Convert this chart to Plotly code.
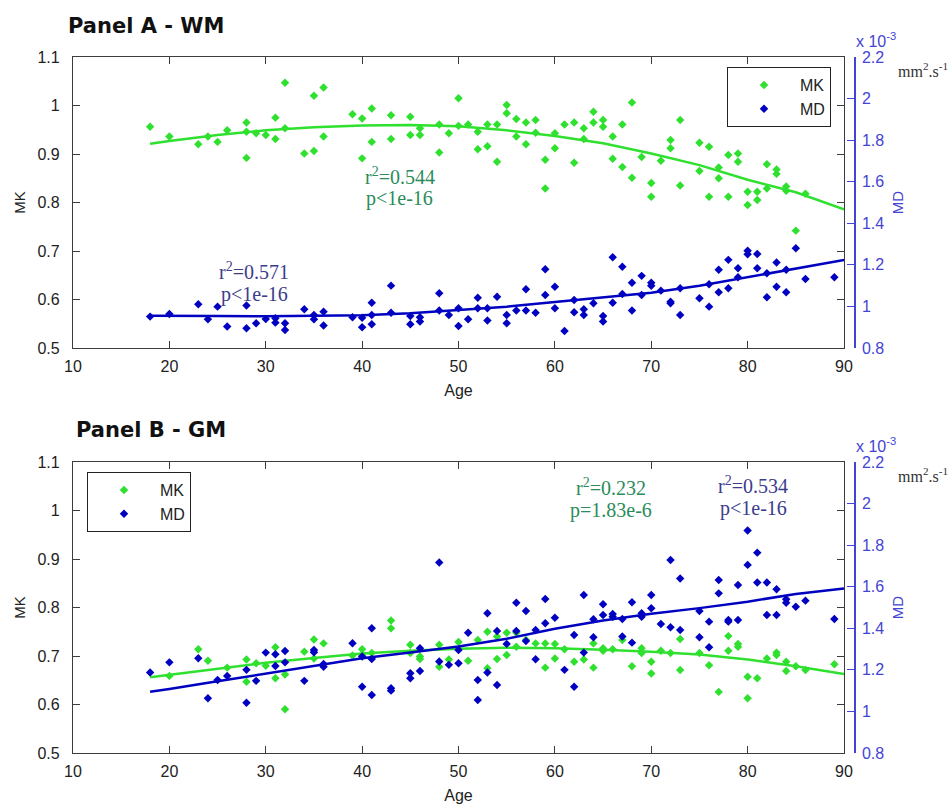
import plotly.graph_objects as go

# ---------------- Panel A - white matter ----------------
age_mk_a = [18, 20, 23, 24, 25, 26, 28, 28, 28, 29, 30, 31, 31, 32, 32, 34, 35, 35, 36, 36,
            39, 40, 40, 41, 41, 43, 43, 45, 45, 46, 46, 48, 48, 49, 50, 50, 51, 52, 52, 53,
            53, 54, 54, 55, 55, 56, 56, 57, 57, 58, 58, 59, 59, 60, 60, 61, 62, 62, 63, 63,
            64, 64, 65, 65, 66, 66, 67, 67, 68, 68, 69, 70, 70, 71, 72, 72, 73, 73, 75, 75,
            76, 76, 77, 77, 78, 78, 79, 79, 80, 80, 81, 81, 82, 82, 83, 83, 84, 84, 85, 86]
mk_a = [0.956, 0.936, 0.920, 0.936, 0.925, 0.949, 0.965, 0.946, 0.892, 0.943, 0.939, 0.975,
        0.931, 1.047, 0.953, 0.901, 1.020, 0.906, 1.037, 0.936, 0.982, 0.973, 0.891, 0.994,
        0.925, 0.980, 0.931, 0.977, 0.939, 0.953, 0.939, 0.961, 0.903, 0.943, 1.015, 0.958,
        0.961, 0.946, 0.910, 0.961, 0.916, 0.961, 0.884, 1.001, 0.984, 0.972, 0.936, 0.965,
        0.920, 0.970, 0.944, 0.888, 0.829, 0.943, 0.912, 0.961, 0.965, 0.882, 0.953, 0.931,
        0.987, 0.965, 0.970, 0.956, 0.936, 0.890, 0.961, 0.873, 1.006, 0.851, 0.894, 0.840,
        0.812, 0.886, 0.929, 0.912, 0.970, 0.835, 0.923, 0.865, 0.915, 0.812, 0.872, 0.850,
        0.898, 0.812, 0.901, 0.884, 0.822, 0.795, 0.822, 0.805, 0.879, 0.829, 0.868, 0.859,
        0.833, 0.824, 0.742, 0.818]

age_md_a = [18, 20, 23, 24, 25, 26, 28, 28, 29, 30, 31, 31, 32, 32, 34, 35, 35, 36, 36, 39,
            40, 40, 41, 41, 41, 43, 43, 45, 45, 46, 46, 48, 48, 49, 50, 50, 51, 52, 52, 53,
            53, 54, 55, 55, 56, 57, 57, 58, 59, 59, 60, 60, 61, 62, 62, 63, 63, 64, 65, 65,
            66, 66, 67, 67, 68, 68, 69, 69, 70, 70, 71, 72, 72, 73, 73, 75, 76, 76, 77, 77,
            78, 78, 79, 79, 80, 80, 81, 81, 82, 82, 83, 83, 84, 84, 85, 86, 89]
md_a = [0.951, 0.964, 1.010, 0.938, 0.999, 0.903, 1.004, 0.895, 0.919, 0.940, 0.943, 0.922,
        0.919, 0.887, 0.986, 0.959, 0.938, 0.975, 0.908, 0.948, 0.946, 0.900, 1.018, 0.959,
        0.914, 1.100, 0.970, 0.954, 0.914, 0.948, 0.927, 1.063, 0.980, 0.959, 0.991, 0.906,
        0.938, 1.042, 0.991, 0.991, 0.932, 1.047, 0.959, 0.919, 0.980, 1.083, 0.980, 0.970,
        1.179, 1.055, 1.095, 0.991, 0.882, 1.031, 0.972, 0.986, 0.959, 1.015, 0.954, 0.927,
        1.237, 1.018, 1.191, 1.060, 1.114, 0.980, 1.147, 1.055, 1.114, 1.099, 1.076, 1.023,
        1.015, 1.087, 0.959, 1.039, 1.107, 0.999, 1.176, 1.068, 1.224, 1.087, 1.184, 1.140,
        1.268, 1.251, 1.252, 1.184, 1.160, 1.044, 1.211, 1.095, 1.176, 1.068, 1.280, 1.132,
        1.140]

fit_age = [18, 20, 25, 30, 35, 40, 45, 50, 55, 60, 65, 70, 75, 80, 85, 90]
fit_mk_a = [0.921, 0.927, 0.939, 0.949, 0.955, 0.959, 0.960, 0.957, 0.949, 0.937, 0.922,
            0.901, 0.877, 0.847, 0.821, 0.786]
fit_md_a = [0.955, 0.954, 0.954, 0.953, 0.954, 0.957, 0.967, 0.984, 0.999, 1.021, 1.043,
            1.066, 1.099, 1.140, 1.180, 1.224]

# ---------------- Panel B - grey matter ----------------
age_mk_b = [20, 23, 24, 26, 28, 28, 29, 30, 31, 31, 32, 32, 34, 35, 35, 36, 39, 40, 40, 41,
            43, 43, 45, 45, 46, 46, 48, 48, 49, 50, 50, 51, 52, 53, 53, 54, 54, 55, 55, 56,
            56, 57, 58, 59, 59, 60, 60, 61, 62, 63, 64, 64, 65, 65, 66, 67, 68, 69, 69, 70,
            70, 71, 72, 73, 73, 75, 76, 77, 78, 78, 79, 79, 80, 80, 81, 82, 83, 83, 84, 84,
            85, 86, 89]
mk_b = [0.659, 0.714, 0.690, 0.676, 0.693, 0.647, 0.685, 0.680, 0.718, 0.654, 0.662, 0.590,
        0.709, 0.734, 0.695, 0.726, 0.701, 0.714, 0.702, 0.706, 0.773, 0.757, 0.723, 0.706,
        0.699, 0.694, 0.723, 0.678, 0.693, 0.729, 0.714, 0.690, 0.733, 0.750, 0.675, 0.740,
        0.694, 0.748, 0.702, 0.748, 0.719, 0.733, 0.726, 0.726, 0.676, 0.725, 0.695, 0.714,
        0.688, 0.693, 0.726, 0.676, 0.716, 0.711, 0.714, 0.733, 0.679, 0.716, 0.706, 0.688,
        0.664, 0.711, 0.706, 0.735, 0.671, 0.706, 0.681, 0.626, 0.741, 0.711, 0.725, 0.719,
        0.657, 0.613, 0.654, 0.695, 0.707, 0.702, 0.688, 0.669, 0.679, 0.671, 0.683]

age_md_b = [18, 20, 23, 24, 25, 26, 28, 28, 29, 30, 31, 31, 32, 32, 34, 35, 35, 36, 36, 39,
            40, 40, 41, 41, 41, 43, 43, 45, 45, 46, 46, 48, 48, 49, 50, 50, 51, 52, 52, 53,
            53, 54, 54, 55, 56, 56, 57, 57, 58, 58, 59, 59, 60, 61, 62, 62, 63, 63, 64, 64,
            65, 65, 66, 66, 67, 67, 68, 68, 69, 69, 70, 70, 71, 72, 72, 73, 73, 75, 75, 76,
            76, 77, 77, 78, 78, 79, 79, 80, 80, 81, 81, 82, 82, 83, 83, 84, 84, 85, 86, 89]
md_b = [1.187, 1.236, 1.256, 1.063, 1.151, 1.171, 1.200, 1.042, 1.147, 1.283, 1.275, 1.219,
        1.291, 1.236, 1.147, 1.296, 1.285, 1.228, 1.215, 1.328, 1.264, 1.119, 1.400, 1.252,
        1.079, 1.112, 1.100, 1.184, 1.160, 1.304, 1.195, 1.716, 1.240, 1.224, 1.296, 1.232,
        1.379, 1.151, 1.055, 1.472, 1.187, 1.387, 1.127, 1.325, 1.523, 1.387, 1.483, 1.339,
        1.392, 1.251, 1.541, 1.424, 1.451, 1.200, 1.368, 1.119, 1.560, 1.283, 1.443, 1.357,
        1.516, 1.464, 1.469, 1.456, 1.445, 1.360, 1.525, 1.331, 1.472, 1.456, 1.560, 1.496,
        1.421, 1.729, 1.405, 1.640, 1.392, 1.483, 1.357, 1.432, 1.309, 1.632, 1.568, 1.440,
        1.432, 1.608, 1.440, 1.870, 1.705, 1.764, 1.620, 1.620, 1.464, 1.588, 1.464, 1.540,
        1.523, 1.504, 1.533, 1.445]

fit_mk_b = [0.656, 0.661, 0.675, 0.686, 0.696, 0.705, 0.711, 0.715, 0.717, 0.716, 0.713,
            0.709, 0.703, 0.693, 0.679, 0.663]
fit_md_b = [1.095, 1.108, 1.145, 1.182, 1.220, 1.256, 1.284, 1.312, 1.350, 1.398, 1.437,
            1.470, 1.497, 1.528, 1.565, 1.592]

age_ticks = [10, 20, 30, 40, 50, 60, 70, 80, 90]

# ---------------- styling ----------------
W, H = 952, 805
GREEN = "#2fe02f"
BLUE = "#0000c0"
AXBLUE = "#4444d4"
FRAME = "#3c3c3c"
TXT_GREEN = "#2a8c5a"
TXT_BLUE = "#3c3c8c"
SANS = "Liberation Sans, Arial, sans-serif"
SERIF = "Liberation Serif, Times New Roman, serif"
HEAD = "DejaVu Sans, Verdana, sans-serif"


def px(x):
    return x / W


def py(y):
    return 1 - y / H


fig = go.Figure()

panels = [
    dict(x="x", ymk="y", ymd="y2", legend="legend",
         mk=(age_mk_a, mk_a), md=(age_md_a, md_a), fmk=fit_mk_a, fmd=fit_md_a),
    dict(x="x2", ymk="y3", ymd="y4", legend="legend2",
         mk=(age_mk_b, mk_b), md=(age_md_b, md_b), fmk=fit_mk_b, fmd=fit_md_b),
]

for p in panels:
    fig.add_trace(go.Scatter(x=p["mk"][0], y=p["mk"][1], xaxis=p["x"], yaxis=p["ymk"],
                             mode="markers", name="MK", legend=p["legend"],
                             marker=dict(symbol="diamond", size=6.5, color=GREEN)))
    fig.add_trace(go.Scatter(x=p["md"][0], y=p["md"][1], xaxis=p["x"], yaxis=p["ymd"],
                             mode="markers", name="MD", legend=p["legend"],
                             marker=dict(symbol="diamond", size=6.5, color=BLUE)))
    fig.add_trace(go.Scatter(x=fit_age, y=p["fmk"], xaxis=p["x"], yaxis=p["ymk"],
                             mode="lines", showlegend=False, hoverinfo="skip",
                             line=dict(color=GREEN, width=2.5)))
    fig.add_trace(go.Scatter(x=fit_age, y=p["fmd"], xaxis=p["x"], yaxis=p["ymd"],
                             mode="lines", showlegend=False, hoverinfo="skip",
                             line=dict(color=BLUE, width=2.5)))

xdom = [px(73), px(844)]
dom_a = [py(348), py(57)]
dom_b = [py(753), py(462)]
md_pos = px(855)


def xaxis_cfg(anchor, domain):
    return dict(domain=domain, anchor=anchor, range=[10, 90], tickvals=age_ticks,
                ticks="inside", ticklen=7, tickcolor=FRAME, showline=True,
                linecolor=FRAME, linewidth=1.3, mirror="ticks", showgrid=False,
                zeroline=False, automargin=False,
                tickfont=dict(family=SANS, size=16, color="#222"),
                ticklabelstandoff=4,
                title=dict(text="Age", font=dict(family=SANS, size=16, color="#222"),
                           standoff=10))


def mk_axis(anchor, domain):
    return dict(domain=domain, anchor=anchor, range=[0.5, 1.1], dtick=0.1, tick0=0.5,
                ticks="inside", ticklen=7, tickcolor=FRAME, showline=True,
                linecolor=FRAME, linewidth=1.3, mirror="ticks", showgrid=False,
                zeroline=False, automargin=False,
                tickfont=dict(family=SANS, size=16, color="#222"),
                ticklabelstandoff=9,
                title=dict(text="MK", font=dict(family=SANS, size=15, color="#222"),
                           standoff=8))


def md_axis(overlay, domain):
    return dict(domain=domain, overlaying=overlay, side="right", anchor="free",
                position=md_pos, range=[0.8, 2.2], dtick=0.2, tick0=0.8,
                ticks="inside", ticklen=7, tickcolor=AXBLUE, showline=True,
                linecolor=AXBLUE, linewidth=1.5, showgrid=False, zeroline=False,
                automargin=False,
                tickfont=dict(family=SANS, size=16, color=AXBLUE),
                ticklabelstandoff=3,
                title=dict(text="MD", font=dict(family=SANS, size=15, color=AXBLUE),
                           standoff=8))


legend_style = dict(xanchor="left", yanchor="top", bgcolor="white", bordercolor="#222",
                    borderwidth=1, itemwidth=62,
                    font=dict(family=SANS, size=16, color="#222"))

fig.update_layout(
    width=W, height=H,
    margin=dict(l=0, r=0, t=0, b=0, autoexpand=False),
    paper_bgcolor="white", plot_bgcolor="white",
    xaxis=xaxis_cfg("y", xdom),
    yaxis=mk_axis("x", dom_a),
    yaxis2=md_axis("y", dom_a),
    xaxis2=xaxis_cfg("y3", xdom),
    yaxis3=mk_axis("x2", dom_b),
    yaxis4=md_axis("y3", dom_b),
    legend=dict(x=px(727), y=py(67), **legend_style),
    legend2=dict(x=px(87), y=py(472), **legend_style),
)

annotations = [
    # panel headings
    dict(text="<b>Panel A - WM</b>", x=px(66), y=py(26), xanchor="left", yanchor="middle",
         font=dict(family=HEAD, size=21, color="#111")),
    dict(text="<b>Panel B - GM</b>", x=px(74), y=py(430), xanchor="left", yanchor="middle",
         font=dict(family=HEAD, size=21, color="#111")),
    # MD scale factor and unit
    dict(text="x 10<sup>-3</sup>", x=px(854), y=py(40), xanchor="left", yanchor="middle",
         font=dict(family=SANS, size=16, color=AXBLUE)),
    dict(text="x 10<sup>-3</sup>", x=px(854), y=py(445), xanchor="left", yanchor="middle",
         font=dict(family=SANS, size=16, color=AXBLUE)),
    dict(text="mm<sup>2</sup>.s<sup>-1</sup>", x=px(950), y=py(70), xanchor="right",
         yanchor="middle", font=dict(family=SERIF, size=16, color="#333")),
    dict(text="mm<sup>2</sup>.s<sup>-1</sup>", x=px(950), y=py(475), xanchor="right",
         yanchor="middle", font=dict(family=SERIF, size=16, color="#333")),
]

# fit statistics, two lines each
stats = [
    ("x", "y", 43.9, 0.831, "r<sup>2</sup>=0.544", "p&lt;1e-16", TXT_GREEN),
    ("x", "y", 28.8, 0.635, "r<sup>2</sup>=0.571", "p&lt;1e-16", TXT_BLUE),
    ("x2", "y3", 65.8, 1.024, "r<sup>2</sup>=0.232", "p=1.83e-6", TXT_GREEN),
    ("x2", "y3", 80.6, 1.028, "r<sup>2</sup>=0.534", "p&lt;1e-16", TXT_BLUE),
]
for xr, yr, xv, yv, line1, line2, col in stats:
    for txt, shift in ((line1, 11.5), (line2, -11.5)):
        annotations.append(dict(text=txt, xref=xr, yref=yr, x=xv, y=yv, yshift=shift,
                                showarrow=False, xanchor="center", yanchor="middle",
                                font=dict(family=SERIF, size=20, color=col)))

for a in annotations:
    a.setdefault("xref", "paper")
    a.setdefault("yref", "paper")
    a.setdefault("showarrow", False)

fig.update_layout(annotations=annotations)

fig.write_html("out.html")
